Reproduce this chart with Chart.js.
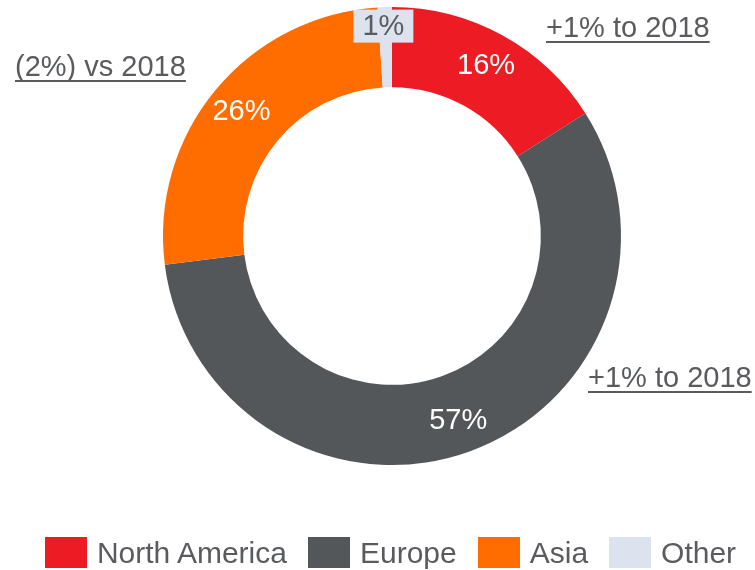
<!DOCTYPE html>
<html>
<head>
<meta charset="utf-8">
<script src="https://cdn.jsdelivr.net/npm/chart.js@4/dist/chart.umd.min.js"></script>
<style>
  html, body { margin: 0; padding: 0; background: #fff; overflow: hidden; }
  #wrap { position: relative; width: 755px; height: 570px; }
  #myChart { position: absolute; left: 0; top: 0; }
  #legend {
    position: absolute; left: 0; top: 537px; width: 781px;
    display: flex; justify-content: center;
    font-family: "Liberation Sans", Arial, sans-serif; font-size: 30px; color: #595b5e;
  }
  .item { display: flex; align-items: center; height: 31px; margin-right: 21px; }
  .item:last-child { margin-right: 0; }
  .box { width: 42px; height: 31px; margin-right: 10px; }
</style>
</head>
<body>
<div id="wrap">
  <canvas id="myChart" width="755" height="570"></canvas>
  <div id="legend"></div>
</div>
<script>
const regions = ["North America", "Europe", "Asia", "Other"];
const shares = [16, 57, 26, 1];
const changeNotes = ["+1% to 2018", "+1% to 2018", "(2%) vs 2018", ""];
const colors = ["#ed1c24", "#54575a", "#ff6d00", "#dce3ee"];

const FONT = '29px "Liberation Sans", Arial, sans-serif';
const GREY = "#595b5e";

// where each change note sits (baseline left), same order as regions
const notePos = [[546, 37], [588, 387], [15, 76], null];

const labelsPlugin = {
  id: "sliceLabels",
  afterDatasetsDraw(chart) {
    const ctx = chart.ctx;
    const meta = chart.getDatasetMeta(0);
    ctx.save();
    ctx.font = FONT;
    ctx.textAlign = "center";
    ctx.textBaseline = "middle";
    meta.data.forEach((arc, i) => {
      const p = arc.getProps(["x", "y", "startAngle", "endAngle", "innerRadius", "outerRadius"]);
      const mid = (p.startAngle + p.endAngle) / 2;
      const text = shares[i] + "%";
      const small = shares[i] < 5;
      const r = small ? p.outerRadius - 19 : p.innerRadius + (p.outerRadius - p.innerRadius) * 0.58;
      const x = p.x + Math.cos(mid) * r - (small ? 2 : 0);
      const y = p.y + Math.sin(mid) * r;
      if (small) {
        const w = ctx.measureText(text).width + 18;
        ctx.fillStyle = colors[i];
        ctx.fillRect(x - w / 2, y - 16.5, w, 33);
        ctx.fillStyle = GREY;
      } else {
        ctx.fillStyle = "#ffffff";
      }
      ctx.fillText(text, x, y + 1);
    });
    ctx.restore();
  },
  afterDraw(chart) {
    const ctx = chart.ctx;
    ctx.save();
    ctx.font = FONT;
    ctx.textAlign = "left";
    ctx.textBaseline = "alphabetic";
    ctx.fillStyle = GREY;
    changeNotes.forEach((note, i) => {
      if (!note || !notePos[i]) return;
      const [x, y] = notePos[i];
      ctx.fillText(note, x, y);
      ctx.fillRect(x, y + 4, ctx.measureText(note).width, 2);
    });
    ctx.restore();
  }
};

const ctx = document.getElementById("myChart").getContext("2d");
new Chart(ctx, {
  type: "doughnut",
  data: {
    labels: regions,
    datasets: [{
      data: shares,
      backgroundColor: colors,
      borderWidth: 0,
      hoverOffset: 0
    }]
  },
  options: {
    responsive: false,
    animation: false,
    cutout: "65%",
    layout: { padding: { left: 163, right: 134, top: 7, bottom: 105 } },
    plugins: {
      legend: { display: false },
      tooltip: { enabled: false }
    },
    events: []
  },
  plugins: [labelsPlugin]
});

// legend built from the same arrays
const legend = document.getElementById("legend");
regions.forEach((name, i) => {
  const item = document.createElement("div");
  item.className = "item";
  const box = document.createElement("span");
  box.className = "box";
  box.style.background = colors[i];
  const label = document.createElement("span");
  label.textContent = name;
  item.appendChild(box);
  item.appendChild(label);
  legend.appendChild(item);
});
</script>
</body>
</html>
